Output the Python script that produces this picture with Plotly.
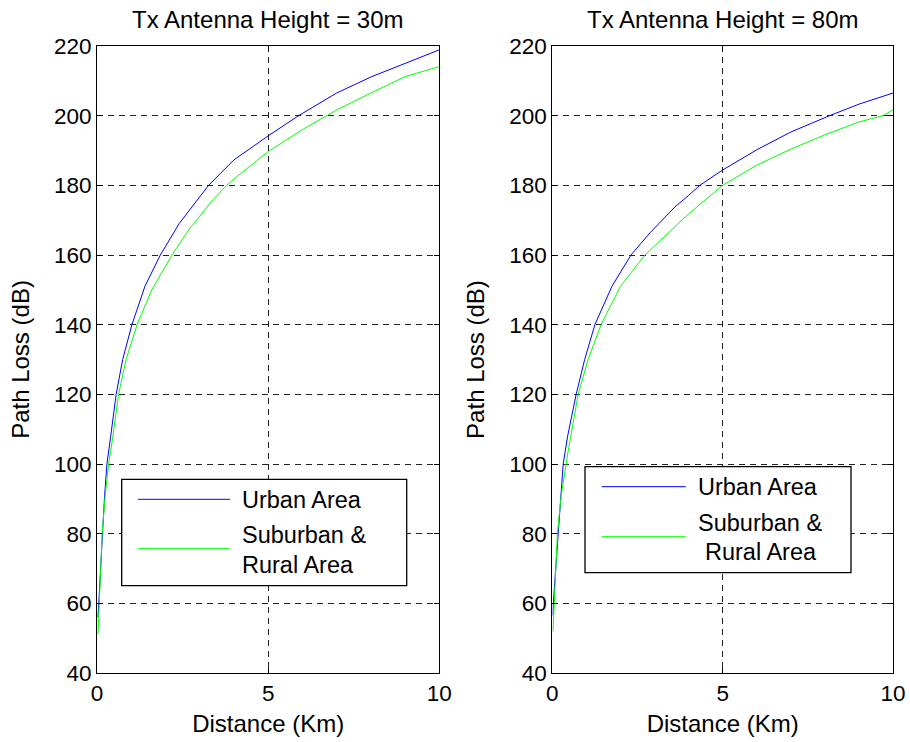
import plotly.graph_objects as go

# ---------------- data ----------------
# Left panel: Tx antenna height = 30 m
d_urban_30 = [0.03, 0.05, 0.10, 0.16, 0.22, 0.29, 0.40, 0.56, 0.75, 1.02, 1.40, 1.85, 2.40, 2.94, 3.26, 4.00, 5.00, 5.89, 7.00, 8.00, 9.00, 10.0]
pl_urban_30 = [56.0, 60.0, 72.0, 80.0, 90.5, 100.0, 108.0, 120.0, 130.0, 140.0, 151.0, 160.0, 169.0, 176.0, 180.0, 187.3, 194.2, 200.0, 206.5, 211.1, 215.1, 218.9]

d_sub_30 = [0.03, 0.07, 0.10, 0.15, 0.24, 0.34, 0.45, 0.63, 0.85, 1.17, 1.60, 2.19, 2.70, 3.40, 3.79, 4.00, 5.00, 6.00, 6.71, 7.00, 8.00, 9.00, 10.0]
pl_sub_30 = [51.2, 60.0, 70.0, 80.0, 91.0, 100.0, 107.0, 120.0, 130.0, 140.0, 150.0, 160.0, 167.5, 176.0, 180.0, 181.8, 189.7, 196.0, 200.0, 201.6, 206.5, 211.2, 214.1]

# Right panel: Tx antenna height = 80 m
d_urban_80 = [0.02, 0.03, 0.10, 0.18, 0.25, 0.32, 0.45, 0.70, 0.95, 1.25, 1.75, 2.31, 2.87, 3.60, 4.00, 4.33, 5.00, 6.00, 7.00, 8.14, 9.00, 10.0]
pl_urban_80 = [56.5, 60.0, 70.0, 80.0, 91.0, 100.0, 108.0, 120.0, 130.0, 140.0, 151.0, 160.0, 166.4, 173.8, 177.1, 180.0, 184.4, 190.2, 195.3, 200.0, 203.3, 206.5]

d_sub_80 = [0.02, 0.06, 0.10, 0.15, 0.26, 0.39, 0.47, 0.76, 1.05, 1.43, 2.00, 2.72, 3.60, 4.00, 5.00, 6.00, 7.00, 8.00, 9.00, 9.71, 10.0]
pl_sub_80 = [51.9, 60.0, 69.0, 80.0, 91.0, 100.0, 104.0, 120.0, 130.0, 140.0, 151.0, 160.0, 168.3, 171.8, 180.0, 185.8, 190.4, 194.5, 198.2, 200.0, 201.7]

titles = ["Tx Antenna Height = 30m", "Tx Antenna Height = 80m"]
legend_labels = ["Urban Area", "Suburban &", "Rural Area"]
x_ticks = [0, 5, 10]
y_ticks = [40, 60, 80, 100, 120, 140, 160, 180, 200, 220]

BLUE = "#0000ff"
GREEN = "#00ff00"
FONT = "Liberation Sans, Arial, sans-serif"

# ---------------- figure ----------------
W, H = 910, 742
ML, MR, MT, MB = 97, 17, 46, 69
PW, PH = W - ML - MR, H - MT - MB


def px(xp):
    return (xp - ML) / PW


def py(yp):
    return (H - MB - yp) / PH


fig = go.Figure()
fig.add_trace(go.Scatter(x=d_urban_30, y=pl_urban_30, mode="lines", line=dict(color=BLUE, width=1),
                         name="Urban Area", showlegend=False, xaxis="x", yaxis="y"))
fig.add_trace(go.Scatter(x=d_sub_30, y=pl_sub_30, mode="lines", line=dict(color=GREEN, width=1),
                         name="Suburban & Rural Area", showlegend=False, xaxis="x", yaxis="y"))
fig.add_trace(go.Scatter(x=d_urban_80, y=pl_urban_80, mode="lines", line=dict(color=BLUE, width=1),
                         name="Urban Area", showlegend=False, xaxis="x2", yaxis="y2"))
fig.add_trace(go.Scatter(x=d_sub_80, y=pl_sub_80, mode="lines", line=dict(color=GREEN, width=1),
                         name="Suburban & Rural Area", showlegend=False, xaxis="x2", yaxis="y2"))

left_dom = [0.0, px(439.3)]
right_dom = [px(552.3), 1.0]

axis_common = dict(
    showline=True, linecolor="black", linewidth=1, mirror="allticks",
    ticks="inside", ticklen=5, tickcolor="black", tickwidth=1,
    showgrid=True, gridcolor="#222222", gridwidth=1, griddash="6px,5px",
    zeroline=False, tickfont=dict(family=FONT, size=22.5, color="black"),
    title_font=dict(family=FONT, size=24, color="black"),
)

fig.update_layout(
    width=W, height=H,
    margin=dict(l=ML, r=MR, t=MT, b=MB, autoexpand=False),
    paper_bgcolor="white", plot_bgcolor="white",
    font=dict(family=FONT, size=22, color="black"),
    xaxis=dict(domain=left_dom, range=[0, 10], tickvals=x_ticks, anchor="y",
               title=dict(text="Distance (Km)", standoff=10), **axis_common),
    yaxis=dict(domain=[0, 1], range=[40, 220], tickvals=y_ticks, anchor="x",
               title=dict(text="Path Loss (dB)", standoff=17), **axis_common),
    xaxis2=dict(domain=right_dom, range=[0, 10], tickvals=x_ticks, anchor="y2",
                title=dict(text="Distance (Km)", standoff=10), **axis_common),
    yaxis2=dict(domain=[0, 1], range=[40, 220], tickvals=y_ticks, anchor="x2",
                title=dict(text="Path Loss (dB)", standoff=17), **axis_common),
)

annotations = []
shapes = []
# panel titles
for title, dom in zip(titles, [left_dom, right_dom]):
    annotations.append(dict(text=title, x=(dom[0] + dom[1]) / 2, y=py(19), xref="paper", yref="paper",
                            xanchor="center", yanchor="middle", showarrow=False,
                            font=dict(family=FONT, size=24, color="black")))

# manual legends (MATLAB style boxes)
legend_specs = [
    dict(box=(121.7, 406.7, 479.3, 585.7), lx=(138, 230), ly=(499.3, 548.7),
         tx=240, ty=(500, 535, 565), rx=240),
    dict(box=(585, 851, 466.7, 572.7), lx=(601.7, 685.7), ly=(486.7, 536.7),
         tx=696, ty=(487, 522.7, 551.7), rx=703.3),
]
for spec in legend_specs:
    bx0, bx1, by0, by1 = spec["box"]
    shapes.append(dict(type="rect", xref="paper", yref="paper", x0=px(bx0), x1=px(bx1),
                       y0=py(by1), y1=py(by0), line=dict(color="black", width=1.3),
                       fillcolor="white", layer="above"))
    for yy, col in zip(spec["ly"], [BLUE, GREEN]):
        shapes.append(dict(type="line", xref="paper", yref="paper", x0=px(spec["lx"][0]), x1=px(spec["lx"][1]),
                           y0=py(yy), y1=py(yy), line=dict(color=col, width=1), layer="above"))
    xs = [spec["tx"], spec["tx"], spec["rx"]]
    for lab, xx, yy in zip(legend_labels, xs, spec["ty"]):
        annotations.append(dict(text=lab, x=px(xx), y=py(yy), xref="paper", yref="paper",
                                xanchor="left", yanchor="middle", showarrow=False,
                                font=dict(family=FONT, size=23.5, color="black")))

fig.update_layout(annotations=annotations, shapes=shapes)
fig.write_html("out.html")
